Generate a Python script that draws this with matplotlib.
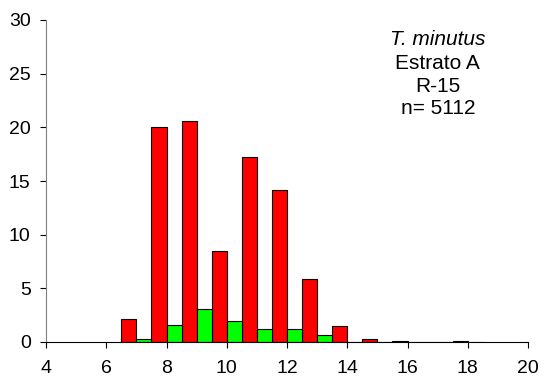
# Size-frequency histogram, paired bars per length class
import numpy as np
import matplotlib.pyplot as plt

plt.rcParams['font.family'] = ['Liberation Sans', 'DejaVu Sans']

size_class = [7, 8, 9, 10, 11, 12, 13, 14, 15, 16, 17, 18]
red_pct = [2.1, 20.0, 20.6, 8.5, 17.2, 14.2, 5.9, 1.5, 0.25, 0.1, 0.0, 0.05]
green_pct = [0.25, 1.55, 3.1, 1.93, 1.18, 1.18, 0.62, 0.0, 0.0, 0.0, 0.0, 0.0]
label_lines = ['T. minutus', 'Estrato A', 'R-15', 'n= 5112']

fig = plt.figure(figsize=(5.45, 3.81), dpi=100)
ax = fig.add_axes([46/545, 1 - 342/381, (528-46)/545, (342-20)/381])

x = np.array(size_class)
ax.bar(x - 0.25, red_pct, width=0.5, color='#ff0000', edgecolor='black', linewidth=0.8)
ax.bar(x + 0.25, green_pct, width=0.5, color='#00ff00', edgecolor='black', linewidth=0.8)

ax.set_xlim(4, 20)
ax.set_ylim(0, 30)
ax.set_xticks(range(4, 21, 2))
ax.set_yticks(range(0, 31, 5))
ax.tick_params(labelsize=14, length=4, width=0.8, direction='out')
ax.tick_params(axis='x', pad=9)
ax.tick_params(axis='y', pad=7)
ax.spines['top'].set_visible(False)
ax.spines['right'].set_visible(False)
ax.spines['left'].set_color('#808080')

# species / stratum / sample label block
ys = [0.938, 0.866, 0.795, 0.724]
for i, (line, yy) in enumerate(zip(label_lines, ys)):
    ax.text(0.813, yy, line, transform=ax.transAxes, ha='center', va='center',
            fontsize=15, fontstyle='italic' if i == 0 else 'normal')

fig.savefig('out.png', dpi=100)
